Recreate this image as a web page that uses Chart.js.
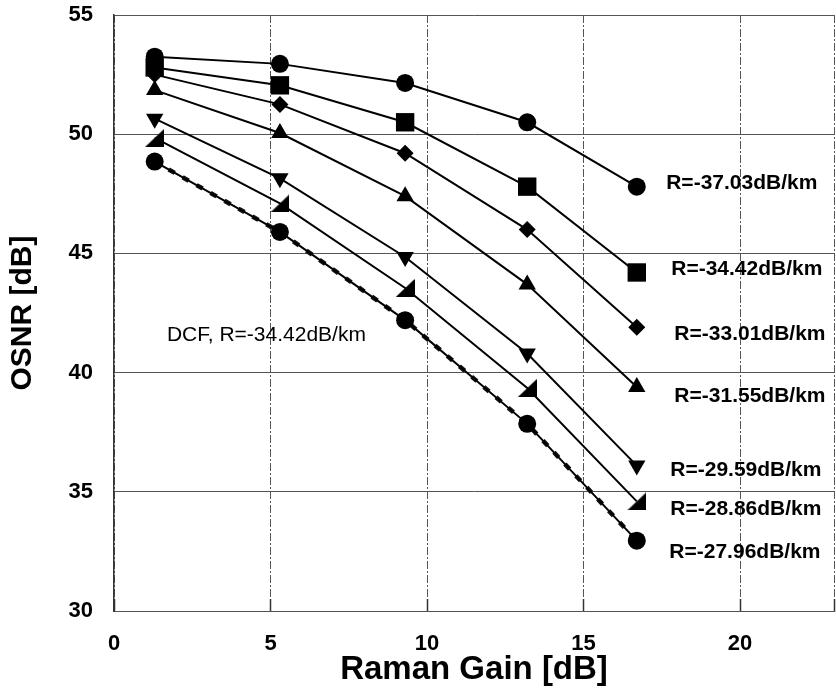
<!DOCTYPE html>
<html>
<head>
<meta charset="utf-8">
<script src="https://cdn.jsdelivr.net/npm/chart.js@4/dist/chart.umd.min.js"></script>
<style>
  html, body { margin: 0; padding: 0; background: #fff; }
  #wrap { width: 836px; height: 696px; }
</style>
</head>
<body>
<div id="wrap"><canvas id="osnrChart" width="836" height="696"></canvas></div>
<script>
// Raman gain sweep (dB)
const ramanGain = [1.3, 5.3, 9.3, 13.2, 16.7];

// OSNR (dB) per Raman fibre loss coefficient
const osnr3703 = [53.25, 52.95, 52.15, 50.5, 47.8];
const osnr3442 = [52.8, 52.05, 50.5, 47.8, 44.2];
const osnr3301 = [52.5, 51.25, 49.2, 46.0, 41.9];
const osnr3155 = [51.85, 50.05, 47.4, 43.7, 39.4];
const osnr2959 = [50.65, 48.15, 44.85, 40.8, 36.1];
const osnr2886 = [49.85, 47.1, 43.55, 39.35, 34.6];
const osnr2796 = [48.85, 45.9, 42.2, 37.85, 32.95];
const osnrDcf  = [48.85, 45.9, 42.2, 37.85, 32.95];

const seriesNames = [
  "R=-37.03dB/km", "R=-34.42dB/km", "R=-33.01dB/km", "R=-31.55dB/km",
  "R=-29.59dB/km", "R=-28.86dB/km", "R=-27.96dB/km"
];
const dcfName = "DCF, R=-34.42dB/km";

const xTicks = [0, 5, 10, 15, 20];
const yTicks = [30, 35, 40, 45, 50, 55];

const FONT = "'Liberation Sans', Arial, Helvetica, sans-serif";

// right-angled triangle marker
function cornerTriangle() {
  const c = document.createElement("canvas");
  c.width = 19; c.height = 18;
  const g = c.getContext("2d");
  g.fillStyle = "#000";
  g.beginPath();
  g.moveTo(19, 0);
  g.lineTo(19, 18);
  g.lineTo(0, 18);
  g.closePath();
  g.fill();
  return c;
}

const toXY = ys => ys.map((y, i) => ({ x: ramanGain[i], y }));

function series(label, ys, style, radius, extra) {
  return Object.assign({
    label,
    data: toXY(ys),
    borderColor: "#000",
    backgroundColor: "#000",
    borderWidth: 2,
    pointStyle: style,
    pointRadius: radius,
    pointBorderWidth: 0,
    pointBackgroundColor: "#000",
    tension: 0,
    order: 1
  }, extra || {});
}

// where each curve label sits, in data units (left edge, vertical centre)
const labelAnchors = [
  { x: 17.64, y: 47.93 },
  { x: 17.80, y: 44.32 },
  { x: 17.90, y: 41.59 },
  { x: 17.90, y: 39.03 },
  { x: 17.77, y: 35.92 },
  { x: 17.77, y: 34.28 },
  { x: 17.74, y: 32.48 }
];
const dcfAnchor = { x: 1.69, y: 41.55 };

const curveLabels = {
  id: "curveLabels",
  afterDatasetsDraw(chart) {
    const { ctx, scales: { x, y } } = chart;
    ctx.save();
    ctx.fillStyle = "#000";
    ctx.textAlign = "left";
    ctx.textBaseline = "middle";
    ctx.font = "bold 21px " + FONT;
    seriesNames.forEach((t, i) => {
      const a = labelAnchors[i];
      ctx.fillText(t, x.getPixelForValue(a.x), y.getPixelForValue(a.y));
    });
    ctx.font = "21px " + FONT;
    ctx.fillText(dcfName, x.getPixelForValue(dcfAnchor.x), y.getPixelForValue(dcfAnchor.y));
    ctx.restore();
  }
};

// no extra room for overhanging tick labels, the layout padding decides
function noLabelPadding(s) {
  s.paddingTop = 0; s.paddingBottom = 0;
  s.paddingLeft = 0; s.paddingRight = 0;
}

const ctx = document.getElementById("osnrChart").getContext("2d");
new Chart(ctx, {
  type: "line",
  data: {
    datasets: [
      series(seriesNames[0], osnr3703, "circle", 9),
      series(seriesNames[1], osnr3442, "rect", 13),
      series(seriesNames[2], osnr3301, "rectRot", 8.5),
      series(seriesNames[3], osnr3155, "triangle", 10),
      series(seriesNames[4], osnr2959, "triangle", 10, { pointRotation: 180 }),
      series(seriesNames[5], osnr2886, cornerTriangle(), 9),
      series(seriesNames[6], osnr2796, "circle", 9),
      series(dcfName, osnrDcf, "circle", 0, {
        borderWidth: 4.5,
        borderDash: [7, 9],
        borderColor: "#111",
        order: 2
      })
    ]
  },
  options: {
    responsive: false,
    animation: false,
    layout: { autoPadding: false, padding: { top: 15, right: 2, left: 0, bottom: 0 } },
    plugins: { legend: { display: false }, tooltip: { enabled: false } },
    scales: {
      x: {
        type: "linear",
        position: "bottom",
        min: 0,
        max: 23,
        afterBuildTicks: s => { s.ticks = xTicks.concat([23]).map(v => ({ value: v })); },
        afterFit: s => { s.height = 85; noLabelPadding(s); },
        ticks: {
          callback: v => (xTicks.includes(v) ? String(v) : ""),
          color: "#000",
          font: { family: FONT, size: 22, weight: "bold" },
          padding: 32,
          maxRotation: 0
        },
        grid: {
          color: "#555",
          lineWidth: 1,
          borderDash: [1, 4],
          drawTicks: true,
          tickLength: -12,
          tickColor: "#333",
          tickWidth: 1.5,
          tickBorderDash: []
        },
        border: { display: true, color: "#555", width: 1, dash: [8, 2, 2, 2] },
        title: {
          display: true,
          text: "Raman Gain [dB]",
          color: "#000",
          font: { family: FONT, size: 33, weight: "bold" },
          padding: { top: 0, bottom: 6 }
        }
      },
      y: {
        type: "linear",
        min: 30,
        max: 55,
        afterBuildTicks: s => { s.ticks = yTicks.map(v => ({ value: v })); },
        afterFit: s => { s.width = 114; noLabelPadding(s); },
        ticks: {
          color: "#000",
          font: { family: FONT, size: 22, weight: "bold" },
          padding: 21
        },
        grid: {
          color: "#555",
          lineWidth: 1,
          borderDash: [1, 4],
          drawTicks: false
        },
        border: { display: true, color: "#333", width: 1.5 },
        title: {
          display: true,
          text: "OSNR [dB]",
          color: "#000",
          font: { family: FONT, size: 30, weight: "bold" },
          padding: { top: 5, bottom: 0 }
        }
      }
    }
  },
  plugins: [curveLabels]
});
</script>
</body>
</html>
